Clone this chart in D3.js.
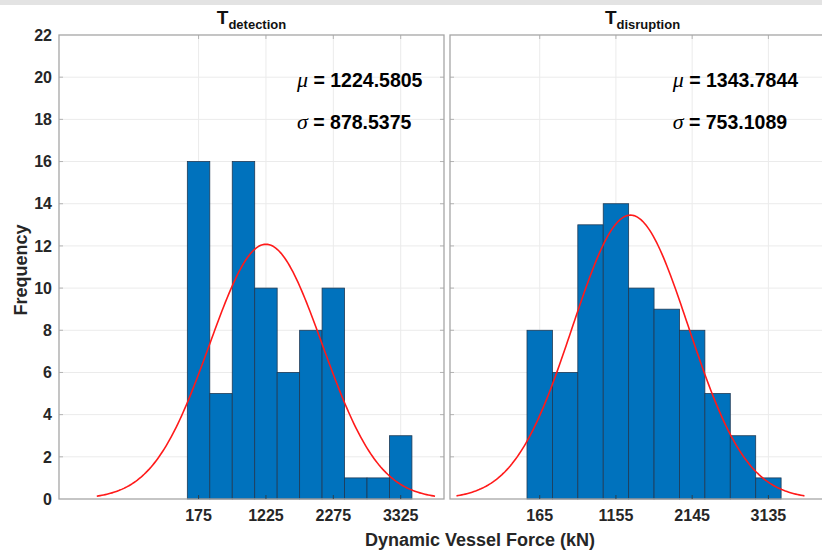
<!DOCTYPE html>
<html>
<head>
<meta charset="utf-8">
<script src="https://cdn.jsdelivr.net/npm/d3@7"></script>
<style>
  body { margin: 0; background: #fff; }
  svg { display: block; font-family: 'Liberation Sans', Arial, sans-serif; }
</style>
</head>
<body>
<svg id="chart" width="822" height="552"></svg>
<script>
// histogram counts per bin
const detectionCounts = [16, 5, 16, 10, 6, 8, 10, 1, 1, 3];
const disruptionCounts = [8, 6, 13, 14, 10, 9, 8, 5, 3, 1];
const detectionBinWidth = 350;
const disruptionBinWidth = 330;

// fitted normal parameters
const detectionMu = 1224.5805, detectionSigma = 878.5375;
const disruptionMu = 1343.7844, disruptionSigma = 753.1089;

// tick labels
const detectionTicks = [175, 1225, 2275, 3325];
const disruptionTicks = [165, 1155, 2145, 3135];
const yTicks = [0, 2, 4, 6, 8, 10, 12, 14, 16, 18, 20, 22];

const panels = [
  { sub: 'detection', counts: detectionCounts, bw: detectionBinWidth, mu: detectionMu, sigma: detectionSigma,
    ticks: detectionTicks, domain: [-2000, 4000], left: 59, right: 444, textX: 1709 },
  { sub: 'disruption', counts: disruptionCounts, bw: disruptionBinWidth, mu: disruptionMu, sigma: disruptionSigma,
    ticks: disruptionTicks, domain: [-1000, 4000], left: 450, right: 835, textX: 1892 }
];

const plotTop = 35, plotBottom = 499;
const svg = d3.select('#chart');
const y = d3.scaleLinear().domain([0, 22]).range([plotBottom, plotTop]);

// grey strip of the figure window at the top
svg.append('rect').attr('x', 0).attr('y', 0).attr('width', 822).attr('height', 5).attr('fill', '#e3e3e3');

const axisColor = '#a6a6a6';
const textColor = '#262626';

panels.forEach((p, idx) => {
  const x = d3.scaleLinear().domain(p.domain).range([p.left, p.right]);
  const g = svg.append('g');

  // grid
  g.selectAll('.hgrid').data(yTicks.slice(1, -1)).enter().append('line')
    .attr('x1', p.left).attr('x2', p.right)
    .attr('y1', d => y(d)).attr('y2', d => y(d))
    .attr('stroke', '#ebebeb').attr('stroke-width', 1);
  g.selectAll('.vgrid').data(p.ticks).enter().append('line')
    .attr('x1', d => x(d)).attr('x2', d => x(d))
    .attr('y1', plotTop).attr('y2', plotBottom)
    .attr('stroke', '#ebebeb').attr('stroke-width', 1);

  // bars
  g.selectAll('.bar').data(p.counts).enter().append('rect')
    .attr('x', (d, i) => x(i * p.bw))
    .attr('width', (d, i) => x((i + 1) * p.bw) - x(i * p.bw))
    .attr('y', d => y(d))
    .attr('height', d => y(0) - y(d))
    .attr('fill', '#0072BD')
    .attr('stroke', '#1f3a55')
    .attr('stroke-width', 0.8);

  // normal fit curve scaled to counts
  const n = d3.sum(p.counts);
  const pts = d3.range(0, 201).map(k => {
    const v = p.mu - 3 * p.sigma + k * (6 * p.sigma / 200);
    const pdf = Math.exp(-0.5 * ((v - p.mu) / p.sigma) ** 2) / (p.sigma * Math.sqrt(2 * Math.PI));
    return [v, n * p.bw * pdf];
  });
  g.append('path').datum(pts)
    .attr('d', d3.line().x(d => x(d[0])).y(d => y(d[1])))
    .attr('fill', 'none').attr('stroke', '#ff1a1a').attr('stroke-width', 1.6);

  // box
  g.append('rect').attr('x', p.left).attr('y', plotTop)
    .attr('width', p.right - p.left).attr('height', plotBottom - plotTop)
    .attr('fill', 'none').attr('stroke', axisColor).attr('stroke-width', 1.3);

  // ticks (inward, both sides)
  g.selectAll('.xt').data(p.ticks).enter().append('line')
    .attr('x1', d => x(d)).attr('x2', d => x(d))
    .attr('y1', plotBottom).attr('y2', plotBottom - 4)
    .attr('stroke', '#333').attr('stroke-width', 0.8);
  g.selectAll('.xtt').data(p.ticks).enter().append('line')
    .attr('x1', d => x(d)).attr('x2', d => x(d))
    .attr('y1', plotTop).attr('y2', plotTop + 4)
    .attr('stroke', axisColor).attr('stroke-width', 0.8);
  g.selectAll('.yt').data(yTicks.slice(1, -1)).enter().append('line')
    .attr('x1', p.left).attr('x2', p.left + 4)
    .attr('y1', d => y(d)).attr('y2', d => y(d))
    .attr('stroke', axisColor).attr('stroke-width', 0.8);
  g.selectAll('.ytr').data(yTicks.slice(1, -1)).enter().append('line')
    .attr('x1', p.right).attr('x2', p.right - 4)
    .attr('y1', d => y(d)).attr('y2', d => y(d))
    .attr('stroke', axisColor).attr('stroke-width', 0.8);

  // x tick labels
  g.selectAll('.xl').data(p.ticks).enter().append('text')
    .attr('x', d => x(d)).attr('y', 521)
    .attr('text-anchor', 'middle')
    .attr('font-size', 16).attr('font-weight', 'bold').attr('fill', textColor)
    .text(d => d);

  // y tick labels only on first panel
  if (idx === 0) {
    g.selectAll('.yl').data(yTicks).enter().append('text')
      .attr('x', 52).attr('y', d => y(d))
      .attr('dy', '0.36em')
      .attr('text-anchor', 'end')
      .attr('font-size', 16).attr('font-weight', 'bold').attr('fill', textColor)
      .text(d => d);
  }

  // title T_sub
  const title = g.append('text')
    .attr('x', (p.left + p.right) / 2).attr('y', 24)
    .attr('text-anchor', 'middle')
    .attr('font-weight', 'bold').attr('fill', '#111');
  title.append('tspan').attr('font-size', 19).text('T');
  title.append('tspan').attr('font-size', 13).attr('dy', 5).text(p.sub);

  // mu / sigma annotations
  const stats = [['\u03bc', p.mu.toFixed(4), 19.8], ['\u03c3', p.sigma.toFixed(4), 17.8]];
  stats.forEach(s => {
    const t = g.append('text')
      .attr('x', x(p.textX)).attr('y', y(s[2]))
      .attr('dy', '0.36em')
      .attr('fill', '#000');
    t.append('tspan').attr('font-family', "'Liberation Serif', 'Times New Roman', serif")
      .attr('font-style', 'italic').attr('font-size', 22).text(s[0]);
    t.append('tspan').attr('font-weight', 'bold').attr('font-size', 19.5).text(' = ' + s[1]);
  });
});

// axis labels
svg.append('text')
  .attr('transform', 'translate(27,270) rotate(-90)')
  .attr('text-anchor', 'middle')
  .attr('font-size', 18).attr('font-weight', 'bold').attr('fill', textColor)
  .text('Frequency');

svg.append('text')
  .attr('x', 480).attr('y', 546)
  .attr('text-anchor', 'middle')
  .attr('font-size', 18).attr('font-weight', 'bold').attr('fill', textColor)
  .text('Dynamic Vessel Force (kN)');
</script>
</body>
</html>
